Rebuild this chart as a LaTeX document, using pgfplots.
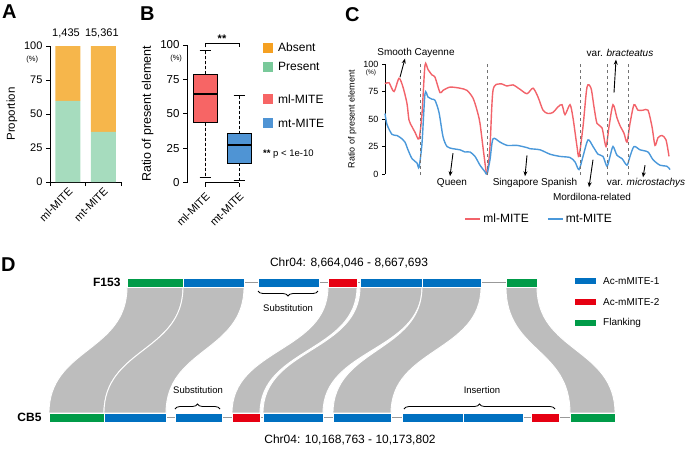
\documentclass[border=0pt]{standalone}
\usepackage{pgfplots}
\pgfplotsset{compat=1.18}
\usepgfplotslibrary{statistics}
\usetikzlibrary{arrows.meta,decorations.pathreplacing}
\usepackage{fontspec}
\setmainfont{Liberation Sans}
\newcommand\fs[1]{\fontsize{#1}{#1}\selectfont}
\definecolor{absentbar}{HTML}{F6B64B}
\definecolor{presentbar}{HTML}{A6DCBE}
\definecolor{absentkey}{HTML}{F5A021}
\definecolor{presentkey}{HTML}{79C99A}
\definecolor{mlbox}{HTML}{F76565}
\definecolor{mtbox}{HTML}{4F94D4}
\definecolor{mlline}{HTML}{F2636A}
\definecolor{mtline}{HTML}{4A98DA}
\definecolor{dblue}{HTML}{0070C0}
\definecolor{dred}{HTML}{E60012}
\definecolor{dgreen}{HTML}{009B48}
\definecolor{ribcol}{HTML}{BDBDBD}
\newcommand\topseg[3]{\addplot[fill=#1, draw=white, line width=0.5pt] coordinates {(#2,278) (#3,278) (#3,287) (#2,287)} -- cycle;}
\newcommand\botseg[3]{\addplot[fill=#1, draw=white, line width=0.5pt] coordinates {(#2,413) (#3,413) (#3,422) (#2,422)} -- cycle;}
\newcommand\ribbon[4]{\fill[ribcol, draw=white, line width=0.9pt] (axis cs:#1,287) .. controls (axis cs:#1,352) and (axis cs:#3,348) .. (axis cs:#3,413) -- (axis cs:#4,413) .. controls (axis cs:#4,348) and (axis cs:#2,352) .. (axis cs:#2,287) -- cycle;}
\begin{document}
\begin{tikzpicture}
\path[use as bounding box] (0,0) rectangle (685pt,-448pt);
\pgfplotsset{every axis/.append style={
  axis line style={line width=0.8pt, black},
  tick style={line width=0.8pt, black},
  /pgf/number format/assume math mode=true}}
% panel letters
\node[anchor=north west, inner sep=0pt, font=\fs{20}\bfseries] at (2pt,-5pt) {A};
\node[anchor=north west, inner sep=0pt, font=\fs{20}\bfseries] at (140pt,-7pt) {B};
\node[anchor=north west, inner sep=0pt, font=\fs{20}\bfseries] at (345pt,-7pt) {C};
\node[anchor=north west, inner sep=0pt, font=\fs{20}\bfseries] at (1pt,-258pt) {D};

% ---------------- Panel A
\begin{axis}[
  at={(50pt,-182pt)}, anchor=south west, scale only axis,
  width=71pt, height=136pt,
  xmin=0.5, xmax=2.5, ymin=0, ymax=100,
  axis y line*=left, axis x line*=bottom,
  ybar stacked, bar width=25pt,
  ytick={0,25,50,75,100},
  xtick={0.5,1.5,2.5}, xticklabels={},
  extra x ticks={1,2}, extra x tick labels={ml-MITE,mt-MITE},
  extra x tick style={major tick length=0pt},
  xticklabel style={rotate=45, anchor=north east, font=\fs{11}},
  yticklabel style={font=\fs{11}},
  tick align=outside, major tick length=4pt,
  ylabel={Proportion}, ylabel style={font=\fs{11.5}},
  clip=false,
]
\addplot[fill=presentbar, draw=none] coordinates {(1,59.6) (2,36.8)};
\addplot[fill=absentbar, draw=none] coordinates {(1,40.4) (2,63.2)};
\node[font=\fs{11}] at (axis cs:0.95,109) {1,435};
\node[font=\fs{11}] at (axis cs:1.96,109) {15,361};
\node[font=\fs{7.5}] at (axis cs:0,90) {(\%)};
\end{axis}

% ---------------- Panel B
\begin{axis}[
  at={(187pt,-182.5pt)}, anchor=south west, scale only axis,
  width=65.6pt, height=137.5pt,
  xmin=0.47, xmax=2.4, ymin=0, ymax=100,
  axis y line*=left, axis x line*=bottom, x axis line style={draw=none},
  xtick={1,2}, xticklabels={ml-MITE,mt-MITE},
  xticklabel style={rotate=45, anchor=north east, font=\fs{11}},
  ytick={0,25,50,75,100},
  yticklabel style={font=\fs{11.5}},
  tick align=outside, major tick length=4pt,
  ylabel={Ratio of present element}, ylabel style={font=\fs{12.5}},
  clip=false,
  boxplot/draw direction=y,
  boxplot/box extend=0.7, boxplot/whisker extend=0.3,
  boxplot/every median/.style={line width=1.8pt},
  boxplot/every whisker/.style={dash pattern=on 3pt off 2pt},
]
\addplot[boxplot prepared={draw position=1, median=64.4, upper quartile=78.7, lower quartile=43.6, upper whisker=95.9, lower whisker=3.9}, fill=mlbox, draw=black, line width=0.8pt] coordinates {};
\addplot[boxplot prepared={draw position=2, median=27.1, upper quartile=35.6, lower quartile=14.1, upper whisker=63, lower whisker=1.5}, fill=mtbox, draw=black, line width=0.8pt] coordinates {};
% solid whisker caps
\draw[line width=0.8pt] (axis cs:0.84,95.9) -- (axis cs:1.16,95.9);
\draw[line width=0.8pt] (axis cs:0.84,3.9) -- (axis cs:1.16,3.9);
\draw[line width=0.8pt] (axis cs:1.84,63) -- (axis cs:2.16,63);
\draw[line width=0.8pt] (axis cs:1.84,1.5) -- (axis cs:2.16,1.5);
\draw[line width=0.8pt] (axis cs:1,0) -- (axis cs:2,0);
\draw[line width=0.8pt] (axis cs:1,98.3) -- (axis cs:1,101.2) -- (axis cs:2,101.2) -- (axis cs:2,98.3);
\node[font=\fs{11}\bfseries] at (axis cs:1.5,104.5) {**};
\node[font=\fs{7.5}] at (axis cs:0.15,90) {(\%)};
\end{axis}

% B legend
\fill[absentkey] (263pt,-42.5pt) rectangle (273pt,-52.5pt);
\fill[presentkey] (263pt,-61.5pt) rectangle (273pt,-71.5pt);
\fill[mlbox] (263pt,-94pt) rectangle (273pt,-104pt);
\fill[mtbox] (263pt,-118pt) rectangle (273pt,-128pt);
\node[anchor=west, font=\fs{12}, inner sep=0pt] at (278pt,-47.5pt) {Absent};
\node[anchor=west, font=\fs{12}, inner sep=0pt] at (278pt,-66.5pt) {Present};
\node[anchor=west, font=\fs{12}, inner sep=0pt] at (278pt,-99pt) {ml-MITE};
\node[anchor=west, font=\fs{12}, inner sep=0pt] at (278pt,-123pt) {mt-MITE};
\node[anchor=west, font=\fs{9.5}, inner sep=0pt] at (263pt,-154pt) {\textbf{**} p < 1e-10};

% ---------------- Panel C
\begin{axis}[
  at={(385pt,-174pt)}, anchor=south west, scale only axis,
  width=287pt, height=110pt,
  xmin=385, xmax=672, ymin=0, ymax=100,
  axis y line*=left, axis x line=none,
  ytick={0,25,50,75,100},
  yticklabel style={font=\fs{9}},
  tick align=outside, major tick length=3pt,
  ylabel={Ratio of present element}, ylabel style={font=\fs{9}},
  clip=false,
  legend style={at={(0.537,-0.41)}, anchor=center, draw=none, fill=none,
    legend columns=2, font=\fs{12},
    /tikz/every even column/.append style={column sep=16pt}},
  legend image code/.code={\draw[#1, line width=2pt] (0pt,0pt) -- (15pt,0pt);},
]
\addplot[mlline, line width=1.4pt, smooth, tension=0.45] coordinates {
(385,82) (389,83) (394,75) (399,87) (403,79) (407,64) (409,49) (412,43) (415,38) (419,32) (422,55) (425,99) (428,95) (432,90) (435,88) (440,74) (443,76) (450,79) (460,78) (467,76) (473,69) (477,58) (480,46) (484,17) (487,0) (490,25) (493,76) (500,82) (507,80) (513,81) (520,77) (527,73) (533,78) (538,70) (543,58) (548,55) (553,56) (558,61) (562,63) (565,54) (570,63) (573,51) (577,25) (579,16) (583,43) (587,79) (591,78) (594,61) (597,46) (602,42) (606,25) (609,43) (613,63) (617,51) (620,44) (624,37) (627,29) (630,46) (634,63) (638,58) (643,58) (648,58) (652,43) (655,26) (658,33) (662,35) (666,31) (669,16)};
\addlegendentry{ml-MITE}
\addplot[mtline, line width=1.4pt, smooth, tension=0.45] coordinates {
(385,55) (387,45) (392,36) (397,35) (402,32) (405,29) (408,22) (412,14) (417,10) (419,6) (422,28) (425,73) (428,70) (432,68) (435,67) (439,56) (443,34) (447,25) (453,23) (460,22) (465,20) (470,20) (475,16) (480,8) (485,2) (487,0) (490,13) (493,32) (500,29) (507,26) (517,26) (527,24) (530,23) (540,22) (550,18) (560,16) (570,15) (575,11) (579,4) (583,16) (588,31) (593,25) (598,18) (603,16) (607,7) (610,16) (613,25) (617,17) (622,14) (627,8) (630,16) (634,25) (640,22) (648,20) (653,13) (660,8) (667,7) (670,4)};
\addlegendentry{mt-MITE}
\foreach \xx in {420,487,580,607,628} {
  \edef\tmp{\noexpand\draw[black!55, line width=0.8pt, dash pattern=on 3pt off 3pt] (axis cs:\xx,-1) -- (axis cs:\xx,101);}\tmp
}
\node[font=\fs{6.5}] at (axis cs:371,91.8) {(\%)};
\node[font=\fs{10}] at (axis cs:416,110.5) {Smooth Cayenne};
\draw[-{Stealth[length=5pt,width=4pt]}, line width=0.9pt] (axis cs:400,88) -- (axis cs:405,105);
\node[font=\fs{10}] at (axis cs:620,110.5) {var. \textit{bracteatus}};
\draw[-{Stealth[length=5pt,width=4pt]}, line width=0.9pt] (axis cs:614,74) -- (axis cs:616,104);
\node[font=\fs{10}] at (axis cs:452,-8.2) {Queen};
\draw[-{Stealth[length=5pt,width=4pt]}, line width=0.9pt] (axis cs:453,19) -- (axis cs:450,-2);
\node[font=\fs{10}] at (axis cs:535,-8.2) {Singapore Spanish};
\draw[-{Stealth[length=5pt,width=4pt]}, line width=0.9pt] (axis cs:527,17) -- (axis cs:525,-2);
\node[font=\fs{10}] at (axis cs:592,-21) {Mordilona-related};
\draw[-{Stealth[length=5pt,width=4pt]}, line width=0.9pt] (axis cs:593,13) -- (axis cs:589,-12);
\node[font=\fs{10}] at (axis cs:646,-8.2) {var. \textit{microstachys}};
\draw[-{Stealth[length=5pt,width=4pt]}, line width=0.9pt] (axis cs:645,8) -- (axis cs:643,-3);
\end{axis}

% ---------------- Panel D
\begin{axis}[
  at={(0pt,-448pt)}, anchor=south west, scale only axis,
  width=685pt, height=448pt,
  xmin=0, xmax=685, ymin=0, ymax=448, y dir=reverse,
  hide axis, clip=false,
]
\addplot[black!40, line width=0.8pt] coordinates {(127,282.5) (537,282.5)};
\addplot[black!40, line width=0.8pt] coordinates {(49,417.5) (615,417.5)};
\ribbon{127}{183}{49}{104}
\ribbon{183}{244}{104}{166}
\ribbon{328}{357}{232}{260}
\ribbon{360}{422}{263}{323}
\ribbon{422}{481}{333}{391}
\ribbon{506}{537}{570}{615}
\topseg{dgreen}{127}{183}
\topseg{dblue}{183}{244}
\topseg{dblue}{258}{319}
\topseg{dred}{328}{357}
\topseg{dblue}{360}{422}
\topseg{dblue}{422}{481}
\topseg{dgreen}{506}{537}
\botseg{dgreen}{49}{104}
\botseg{dblue}{104}{166}
\botseg{dblue}{175}{222}
\botseg{dred}{232}{260}
\botseg{dblue}{263}{323}
\botseg{dblue}{333}{391}
\botseg{dblue}{402}{463}
\botseg{dblue}{463}{523}
\botseg{dred}{531}{559}
\botseg{dgreen}{570}{615}
\node[font=\fs{12}] at (axis cs:349,263) {Chr04: 8,664,046 - 8,667,693};
\node[font=\fs{12}] at (axis cs:350,440) {Chr04: 10,168,763 - 10,173,802};
\node[font=\fs{12}\bfseries, anchor=east] at (axis cs:124,282.5) {F153};
\node[font=\fs{12}\bfseries, anchor=east] at (axis cs:45,417.5) {CB5};
\draw[decorate, decoration={brace, amplitude=5pt, mirror}, line width=0.8pt] (axis cs:258,291) -- (axis cs:318,291);
\node[font=\fs{9.5}] at (axis cs:288,308) {Substitution};
\draw[decorate, decoration={brace, amplitude=5pt}, line width=0.8pt] (axis cs:175,409) -- (axis cs:220,409);
\node[font=\fs{9.5}] at (axis cs:198,390) {Substitution};
\draw[decorate, decoration={brace, amplitude=5pt}, line width=0.8pt] (axis cs:404,409) -- (axis cs:555,409);
\node[font=\fs{9.5}] at (axis cs:482,390) {Insertion};
% D legend
\addplot[fill=dblue, draw=none] coordinates {(575,278) (596,278) (596,284) (575,284)} -- cycle;
\addplot[fill=dred, draw=none] coordinates {(575,299) (596,299) (596,305) (575,305)} -- cycle;
\addplot[fill=dgreen, draw=none] coordinates {(575,320) (596,320) (596,326) (575,326)} -- cycle;
\node[font=\fs{10}, anchor=west, inner sep=0pt] at (axis cs:603,281) {Ac-mMITE-1};
\node[font=\fs{10}, anchor=west, inner sep=0pt] at (axis cs:603,302) {Ac-mMITE-2};
\node[font=\fs{10}, anchor=west, inner sep=0pt] at (axis cs:603,323) {Flanking};
\end{axis}
\end{tikzpicture}
\end{document}
